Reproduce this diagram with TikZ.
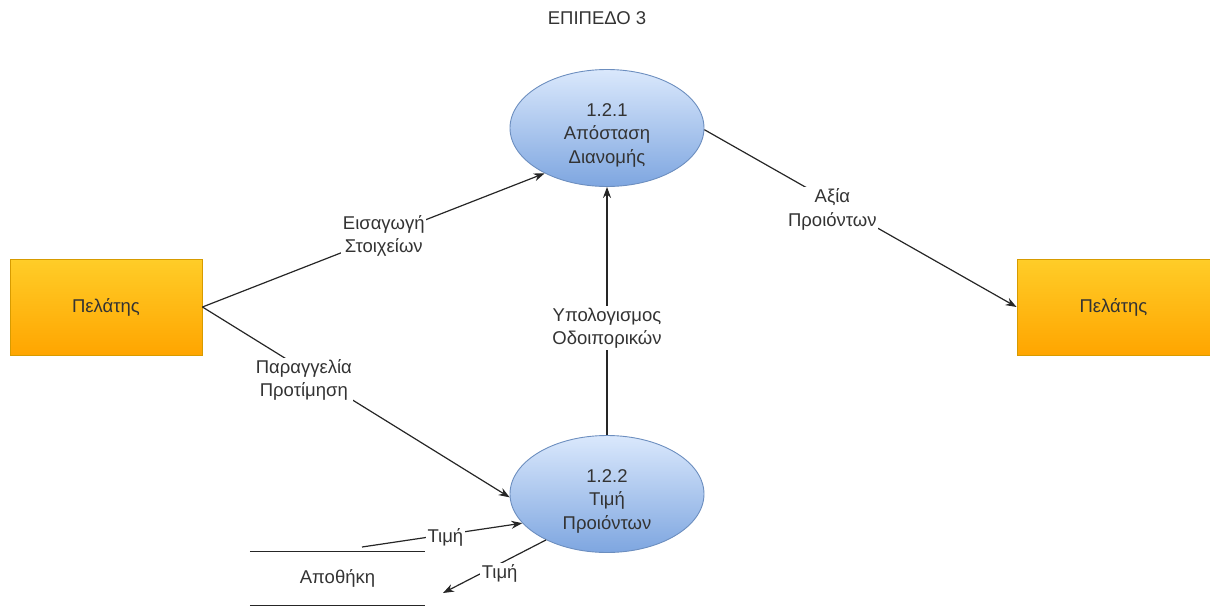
\documentclass[tikz,border=0pt]{standalone}
\usepackage{fontspec}
\setmainfont{Liberation Sans}
\usetikzlibrary{arrows.meta,shapes.geometric}
\definecolor{procTop}{HTML}{DAE8FC}
\definecolor{procBot}{HTML}{7EA6E0}
\definecolor{procLine}{HTML}{6C8EBF}
\definecolor{entTop}{HTML}{FFCD28}
\definecolor{entBot}{HTML}{FFA500}
\definecolor{entLine}{HTML}{D79B00}
\definecolor{ink}{HTML}{333333}
\begin{document}
\begin{tikzpicture}[x=1pt,y=-1pt,
  every node/.style={font=\fontsize{18.5}{23.5}\selectfont, text=ink},
  process/.style={ellipse, draw=procLine, line width=0.9pt, top color=procTop, bottom color=procBot,
    minimum width=194pt, minimum height=117pt, inner sep=0pt},
  ptext/.style={align=center, inner sep=0pt},
  entity/.style={rectangle, draw=entLine, line width=0.9pt, top color=entTop, bottom color=entBot,
    minimum width=192pt, minimum height=96pt, inner sep=0pt},
  flow/.style={draw=black!85, line width=1.2pt, -{Stealth[length=11pt,width=8pt]}},
  plain/.style={draw=black!85, line width=1.2pt},
  lbl/.style={fill=white, inner sep=1.5pt, align=center}]
\useasboundingbox (0,0) rectangle (1210,610);

% title
\node (title) at (597,18) {ΕΠΙΠΕΔΟ 3};

% processes (shape, then its caption set a little below the centre)
\node[process] (p1) at (607,128) {};
\node[ptext] (p1t) at ([yshift=-7pt]p1.center) {1.2.1\\Απόσταση\\Διανομής};
\node[process] (p2) at (607,494) {};
\node[ptext] (p2t) at ([yshift=-7pt]p2.center) {1.2.2\\Τιμή\\Προιόντων};

% external entities
\node[entity] (c1) at (106,307) {Πελάτης};
\node[entity, minimum width=193pt] (c2) at (1113.5,307) {Πελάτης};

% data store
\node[minimum width=175pt, minimum height=53pt, inner sep=0pt] (store) at (337.5,578.5) {Αποθήκη};
\draw[plain] (store.north west) -- (store.north east);
\draw[plain] (store.south west) -- (store.south east);

% free ends of the store flows
\coordinate (sOut) at (362,547);
\coordinate (sIn) at (443,593);

% flows
\draw[flow] (c1.east) -- (p1.216)
  node[lbl, pos=0.53] (l1) {Εισαγωγή\\Στοιχείων};
\draw[flow] (c1.east) -- (p2.182)
  node[lbl, pos=0.33, yshift=-10pt] (l2) {Παραγγελία\\Προτίμηση};
\draw[flow] (p1.-1) -- (c2.west)
  node[lbl, pos=0.41, yshift=-7pt] (l3) {Αξία\\Προιόντων};
\draw[flow] (p2.north) -- (p1.south)
  node[lbl, pos=0.43] (l4) {Υπολογισμος\\Οδοιπορικών};
\draw[flow] (sOut) -- (p2.199)
  node[lbl, pos=0.52, yshift=-3pt] (l5) {Τιμή};
\draw[flow] (p2.217) -- (sIn)
  node[lbl, pos=0.45, yshift=-10pt] (l6) {Τιμή};
\end{tikzpicture}
\end{document}
